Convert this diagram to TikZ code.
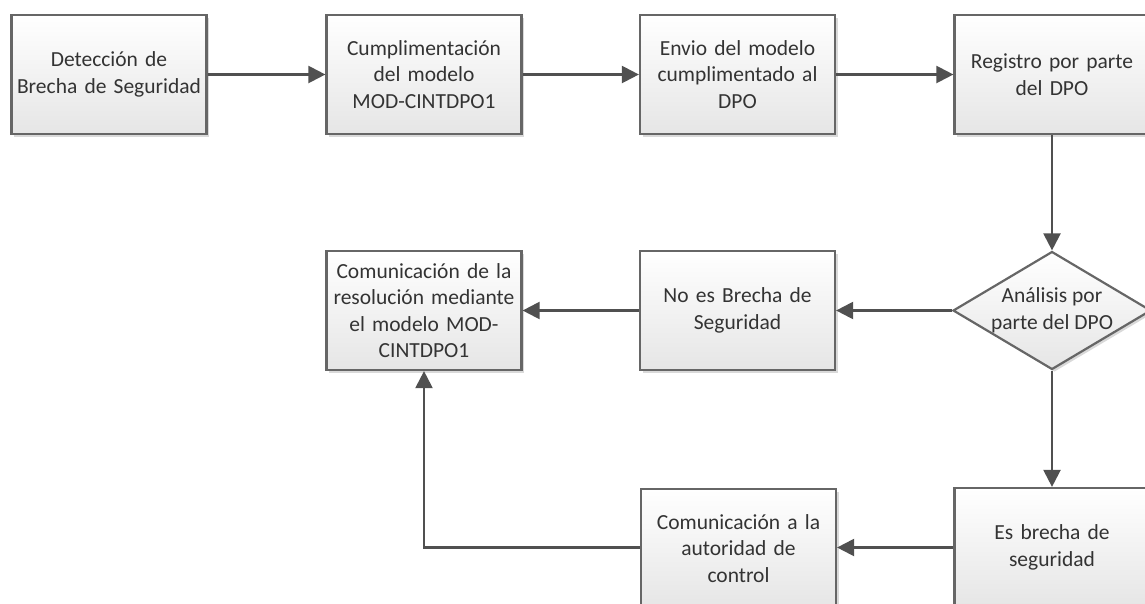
\documentclass[tikz,border=0pt]{standalone}
\usepackage{fontspec}
\setmainfont{Carlito}
\usetikzlibrary{arrows.meta,shapes.geometric,shadows}
\definecolor{txtc}{HTML}{333333}
\definecolor{linec}{HTML}{505050}
\definecolor{bordc}{HTML}{666666}
\tikzset{
  procbox/.style={draw=bordc, line width=2.2pt, top color=white, bottom color=black!10,
    minimum width=195pt, minimum height=119pt, text width=184pt, align=center,
    text=txtc, font=\fontsize{21.5}{26.5}\selectfont,
    drop shadow={shadow xshift=2.5pt, shadow yshift=-2.5pt, opacity=0.3}},
  decbox/.style={diamond, draw=bordc, line width=2.2pt, top color=white, bottom color=black!10,
    minimum width=198pt, minimum height=118pt, inner sep=0pt,
    drop shadow={shadow xshift=2.5pt, shadow yshift=-2.5pt, opacity=0.3}},
  plain/.style={align=center, text=txtc, font=\fontsize{21.5}{26.5}\selectfont},
  conn/.style={draw=linec, line width=2.2pt, -{Triangle[length=17pt,width=17pt]}},
}
\begin{document}
\begin{tikzpicture}[x=1pt,y=-1pt]
\useasboundingbox (0,0) rectangle (1145,603);
\node[procbox] (b1) at (109,74.5) {Detección de\\Brecha de Seguridad};
\node[procbox] (b2) at (424,74.5) {Cumplimentación\\del modelo\\MOD-CINTDPO1};
\node[procbox] (b3) at (737.5,74.5) {Envio del modelo\\cumplimentado al\\DPO};
\node[procbox] (b4) at (1052,74.5) {Registro por parte\\del DPO};
\node[decbox] (d) at (1052,310.5) {};
\node[plain] (dt) at (d) {Análisis por\\parte del DPO};
\node[procbox] (no) at (737.5,310.5) {No es Brecha de\\Seguridad};
\node[procbox] (res) at (424,310.5) {Comunicación de la\\resolución mediante\\el modelo MOD-\\CINTDPO1};
\node[procbox] (es) at (1052,547.5) {Es brecha de\\seguridad};
\node[procbox] (aut) at (738.5,548.5) {Comunicación a la\\autoridad de\\control};
\draw[conn] (b1) -- (b2);
\draw[conn] (b2) -- (b3);
\draw[conn] (b3) -- (b4);
\draw[conn] (b4) -- (d);
\draw[conn] (d) -- (no);
\draw[conn] (no) -- (res);
\draw[conn] (d) -- (es);
\draw[conn] (es.west) -- (aut.east |- es.west);
\draw[conn] (aut.west |- es.west) -| (res.south);
\end{tikzpicture}
\end{document}
